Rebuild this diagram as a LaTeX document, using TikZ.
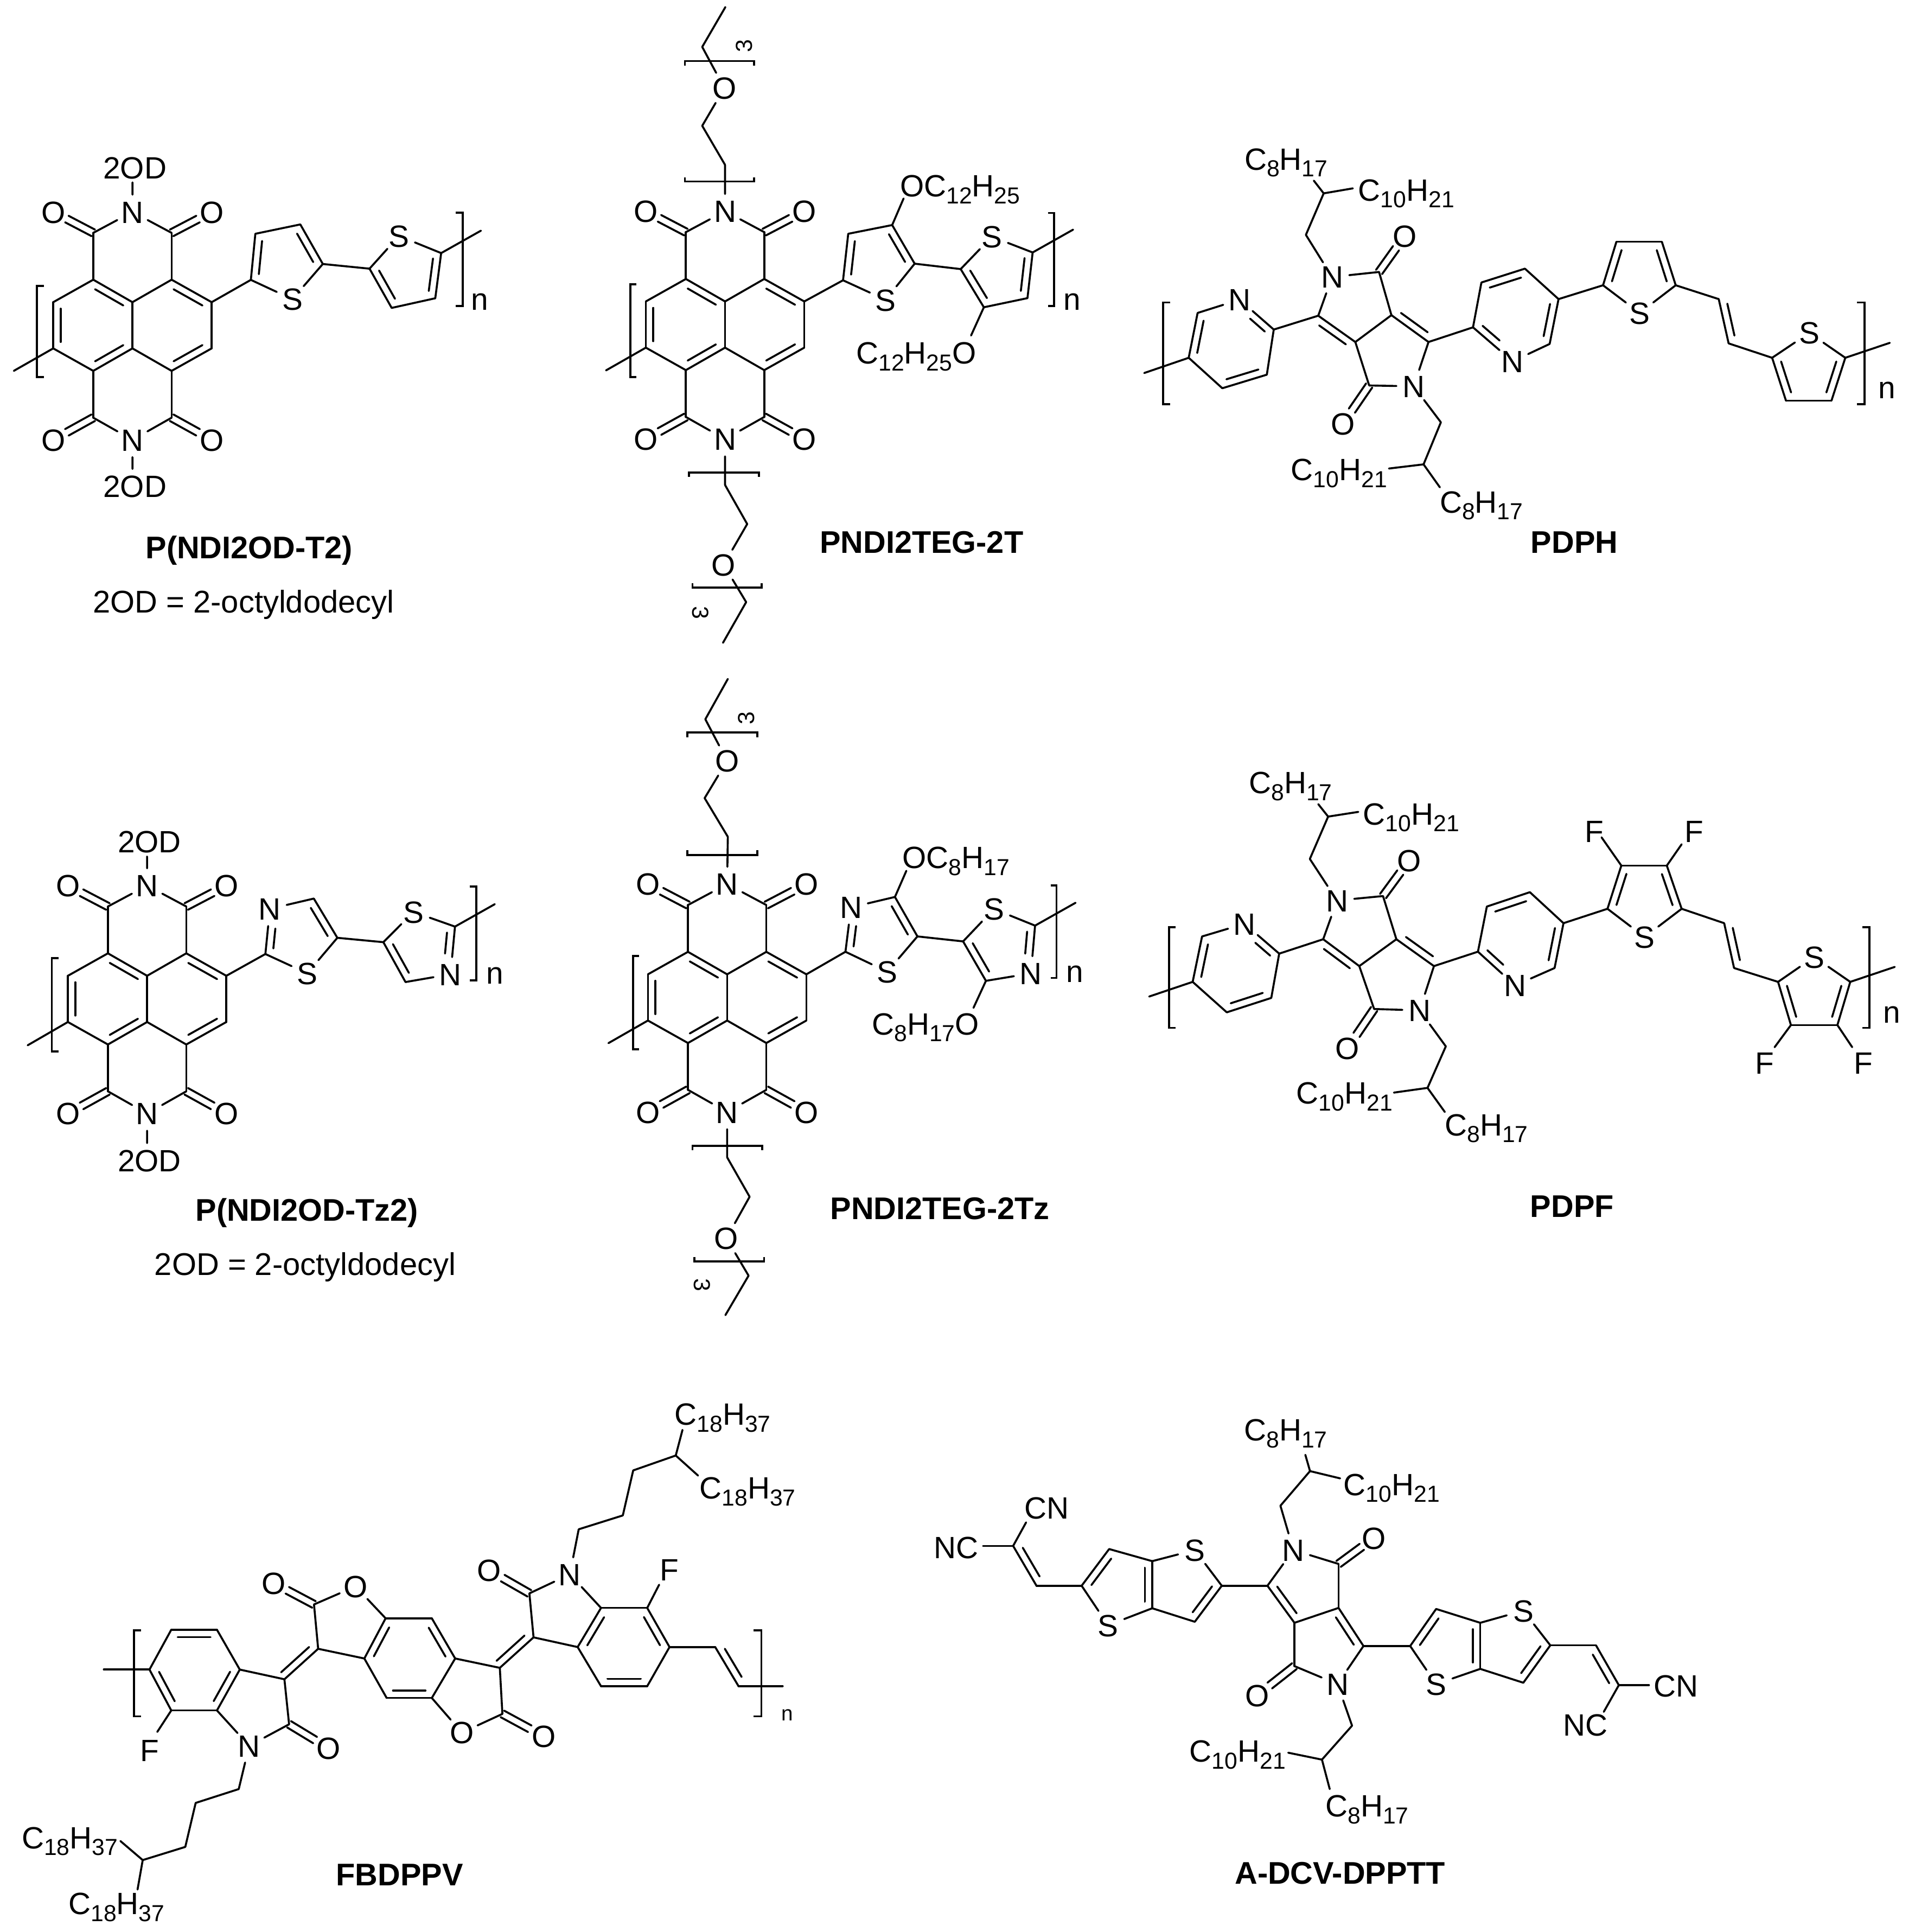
\documentclass[tikz,border=0pt]{standalone}
\usepackage{fontspec}
\setmainfont{Liberation Sans}
\usetikzlibrary{calc}
\newcommand\afont{\fontsize{25}{30}\selectfont}
\newcommand\cfont{\fontsize{25.5}{30}\selectfont}
\newcommand\sfont{\fontsize{18.8}{19}\selectfont}
\newcommand\tfont{\fontsize{25.4}{30}\selectfont\bfseries}
\newcommand\su[1]{\raisebox{-5.5pt}{\sfont #1}}
\tikzset{
  bond/.style={line width=1.6pt,line cap=round,line join=round},
  brk/.style={line width=1.6pt,line cap=butt,line join=miter},
  atom/.style={circle,inner sep=0pt,outer sep=0pt,minimum size=28pt,text height=18pt,text depth=0pt,font=\afont},
  lab/.style={inner sep=0pt,outer sep=0pt,text height=18pt,text depth=0pt,font=\afont},
  captn/.style={inner sep=0pt,outer sep=0pt,text height=18pt,text depth=0pt,font=\cfont},
  ttl/.style={inner sep=0pt,outer sep=0pt,text height=18pt,text depth=0pt,font=\tfont},
  idx/.style={inner sep=0pt,outer sep=0pt,font=\afont},
  rep/.style={inner sep=0pt,outer sep=0pt,font=\sfont}
}
\newcommand\pts[1]{\foreach \nm/\xx/\yy in {#1} {\coordinate (\nm) at (\xx,\yy);}}
\newcommand\ats[1]{\foreach \nm/\tx/\xx/\yy in {#1} {\node[atom] (\nm) at (\xx,\yy) {\tx};}}
\newcommand\bnd[1]{\foreach \pp/\qq in {#1} {\draw[bond] (\pp)--(\qq);}}
\newcommand\dblf[5]{\draw[bond] (#1)--(#2);\draw[bond] ($(#1)!#4!(#2)!6pt!#3:(#2)$)--($(#1)!#5!(#2)!6pt!#3:(#2)$);}
\newcommand\dbl[3]{\dblf{#1}{#2}{#3}{.14}{.86}}
\newcommand\cdo[2]{\draw[bond] ($(#1)!3pt!90:(#2)$)--($(#1)!.66!(#2)!3pt!90:(#2)$);\draw[bond] ($(#1)!3pt!-90:(#2)$)--($(#1)!.66!(#2)!3pt!-90:(#2)$);}
% naphthalene diimide core
\newcommand\ndi[3]{\begin{scope}[shift={(#2,#3)}]
\pts{#1a/-64.3/-18.75,#1b/-64.3/18.75,#1c/-31.8/-37,#1d/31.8/-37,#1e/0/-18.75,#1f/0/18.75,#1g/64.3/-18.75,#1h/64.3/18.75,#1i/-31.8/37,#1j/31.8/37,#1k/-31.8/-75,#1l/31.8/-75,#1m/-31.8/75,#1o/31.8/75}
\ats{#1Na/N/0/-92,#1Nb/N/0/93,#1Oa/O/-64.3/-92,#1Ob/O/64.3/-92,#1Oc/O/-64.3/93,#1Od/O/64.3/93}
\bnd{#1a/#1c,#1e/#1d,#1g/#1h,#1j/#1f,#1i/#1b,#1e/#1f,#1c/#1k,#1d/#1l,#1i/#1m,#1j/#1o,#1k/#1Na,#1l/#1Na,#1m/#1Nb,#1o/#1Nb}
\dbl{#1c}{#1e}{-90}\dbl{#1d}{#1g}{-90}\dbl{#1h}{#1j}{-90}\dbl{#1f}{#1i}{-90}\dbl{#1a}{#1b}{90}
\cdo{#1k}{#1Oa}\cdo{#1l}{#1Ob}\cdo{#1m}{#1Oc}\cdo{#1o}{#1Od}
\end{scope}}
% diketopyrrolopyrrole polymers
\newcommand\pdp[1]{
\bnd{#1p6/#1Np,#1p2/#1p3,#1p4/#1p5,#1p5/#1fl,#1p2/#1d1,#1d1/#1N1,#1N1/#1k1,#1k1/#1k2,#1k2/#1k3,#1d2/#1N2,#1N2/#1k4,#1k4/#1k3,#1d2/#1q2,#1q3/#1q2,#1Nq/#1q6,#1q5/#1q4,#1q5/#1r2,#1r3/#1r4,#1r5/#1Sr,#1r2/#1Sr,#1r5/#1v1,#1v2/#1w1,#1w1/#1Sw,#1Sw/#1w5,#1w4/#1w3,#1w5/#1fr,#1N1/#1e1,#1e1/#1e2,#1e2/#1e3,#1e2/#1e4,#1N2/#1g1,#1g1/#1g2,#1g2/#1g3,#1g2/#1g4}
\dbl{#1p5}{#1p6}{-90}\dblf{#1Np}{#1p2}{-90}{.45}{.88}\dbl{#1p3}{#1p4}{-90}\dbl{#1d1}{#1k3}{-90}\dbl{#1k2}{#1d2}{90}
\dblf{#1q2}{#1Nq}{90}{.12}{.55}\dbl{#1q6}{#1q5}{90}\dbl{#1q4}{#1q3}{90}\dbl{#1r2}{#1r3}{-90}\dbl{#1r4}{#1r5}{-90}
\dbl{#1v1}{#1v2}{90}\dbl{#1w5}{#1w4}{-90}\dbl{#1w3}{#1w1}{-90}
\cdo{#1k1}{#1O1}\cdo{#1k4}{#1O2}}
\begin{document}
\begin{tikzpicture}[x=1pt,y=-1pt]
\useasboundingbox (0,0) rectangle (1554,1568);
\ndi{A}{107.5}{264}
\ndi{B}{588.5}{263.4}
\ndi{D}{119.4}{810.7}
\ndi{E}{590.2}{809.5}
% ---------- P(NDI2OD-T2)
\begin{scope}[shift={(0,110.1)},x=.28084pt,y=-.2528pt]
\pts{At2/725/463,At3/738/315,At4/868/285,At5/933/412,Au1/1068/427,Au5/1275/377,Au4/1258/522,Au3/1132/553,Afr/1390/305,Afl/40/755,Acb/383/150,Acc/383/1070}
\ats{ASt/S/845/525,ASu/S/1153/322}
\bnd{Ag/At2,At3/At4,At5/ASt,At2/ASt,At5/Au1,Au1/ASu,ASu/Au5,Au4/Au3,Au5/Afr,Ab/Afl,ANa/Acb,ANb/Acc}
\dbl{At2}{At3}{-90}\dbl{At4}{At5}{-90}\dbl{Au5}{Au4}{-90}\dbl{Au3}{Au1}{-90}
\draw[brk] (127,482)--(107,482)--(107,775)--(127,775);
\draw[brk] (1317,247)--(1337,247)--(1337,547)--(1317,547);
\node[idx] (An) at (1387,533) {n};
\node[lab] (Ar1) at (390,103) {2OD};
\node[lab] (Ar2) at (390,1125) {2OD};
\node[ttl] (At) at (720,1322) {P(NDI2OD-T2)};
\node[captn] (Ac) at (704,1497) {2OD = 2-octyldodecyl};
\end{scope}
% ---------- PNDI2TEG-2T
\begin{scope}[shift={(462.4,0)},x=.28084pt,y=-.3370pt]
\pts{Bc1/449/397,Bc2/383/303,Bc3/383/113,Bc4/450/17,Bd1/449/1168,Bd2/513/1262,Bd3/510/1450,Bd4/443/1548,
Bt2/790/675,Bt3/805/563,Bt4/932/542,Bt5/997/635,Bu1/1130/648,Bu5/1338/608,Bu4/1323/718,Bu3/1197/740,Bfr/1455/553,Bfl/105/892,Bx1/965/478,Bx2/1160/808}
\ats{BOc/O/447/212,BOd/O/445/1360,BSt/S/913/722,BSu/S/1220/570}
\bnd{BNa/Bc1,Bc1/Bc2,Bc2/BOc,BOc/Bc3,Bc3/Bc4,BNb/Bd1,Bd1/Bd2,Bd2/BOd,BOd/Bd3,Bd3/Bd4,Bg/Bt2,Bt3/Bt4,Bt5/BSt,Bt2/BSt,Bt5/Bu1,Bu1/BSu,BSu/Bu5,Bu4/Bu3,Bu5/Bfr,Bb/Bfl,Bt4/Bx1,Bu3/Bx2}
\dbl{Bt2}{Bt3}{-90}\dbl{Bt4}{Bt5}{-90}\dbl{Bu5}{Bu4}{-90}\dbl{Bu3}{Bu1}{-90}
\draw[brk] (333,158)--(333,147)--(533,147)--(533,158);
\draw[brk] (333,427)--(333,437)--(533,437)--(533,427);
\draw[brk] (345,1148)--(345,1138)--(547,1138)--(547,1148);
\draw[brk] (355,1405)--(355,1415)--(555,1415)--(555,1405);
\draw[brk] (193,685)--(175,685)--(175,908)--(193,908);
\draw[brk] (1382,513)--(1400,513)--(1400,737)--(1382,737);
\node[rep,rotate=90] (Br1) at (505,110) {3};
\node[rep,rotate=-90] (Br2) at (378,1475) {3};
\node[idx] (Bn) at (1452,727) {n};
\node[lab,anchor=west] (Bl1) at (955,447) {OC\su{12}H\su{25}};
\node[lab,anchor=east] (Bl2) at (1175,850) {C\su{12}H\su{25}O};
\node[ttl] (Bt) at (1017,1305) {PNDI2TEG-2T};
\end{scope}
% ---------- PDPH
\begin{scope}[shift={(924.7,105.7)},x=.4013pt,y=-.22467pt]
\pts{Cp5/100/822,Cp6/118/660,Cp2/272/720,Cp3/258/883,Cp4/168/932,Cfl/10/877,Cd1/362/670,Ck1/485/512,Ck2/510/668,Ck3/437/765,Cd2/585/765,Ck4/465/922,
Cq2/675/712,Cq3/692/550,Cq4/780/500,Cq5/848/610,Cq6/830/772,Cr2/938/560,Cr3/965/403,Cr4/1057/403,Cr5/1085/560,Cv1/1172/610,Cv2/1192/770,Cw1/1280/822,Cw5/1428/822,Cw4/1400/977,Cw3/1308/977,Cfr/1518/768,
Ce1/337/378,Ce2/373/228,Ce3/353/182,Ce4/432/210,Cg1/610/1055,Cg2/575/1207,Cg3/505/1222,Cg4/608/1290}
\ats{CNp/N/203/612,CN1/N/390/530,CN2/N/555/925,CNq/N/755/835,CO1/O/537/382,CO2/O/412/1060,CSr/S/1012/660,CSw/S/1355/732}
\pdp{C}
\draw[brk] (63,622)--(48,622)--(48,990)--(63,990);
\draw[brk] (1452,622)--(1467,622)--(1467,990)--(1452,990);
\node[idx] (Cn) at (1512,940) {n};
\node[lab,anchor=west] (Cl1) at (213,103) {C\su{8}H\su{17}};
\node[lab,anchor=west] (Cl2) at (443,215) {C\su{10}H\su{21}};
\node[lab,anchor=west] (Cl3) at (307,1225) {C\su{10}H\su{21}};
\node[lab,anchor=west] (Cl4) at (608,1342) {C\su{8}H\su{17}};
\node[ttl] (Ct) at (880,1487) {PDPH};
\end{scope}
% ---------- P(NDI2OD-Tz2)
\begin{scope}[shift={(0,660.5)},x=.28084pt,y=-.2528pt]
\pts{Dt2/767/450,Dt4/907/272,Dt5/975/398,Du1/1108/412,Du5/1315/362,Du3/1172/540,Dfr/1430/290,Dfl/80/743,Dcb/425/137,Dcc/425/1057}
\ats{DSt/S/888/512,DSu/S/1195/315,DNt/N/780/305,DNu/N/1302/515}
\bnd{Dg/Dt2,DNt/Dt4,Dt5/DSt,Dt2/DSt,Dt5/Du1,Du1/DSu,DSu/Du5,DNu/Du3,Du5/Dfr,Db/Dfl,DNa/Dcb,DNb/Dcc}
\dblf{Dt2}{DNt}{-90}{.14}{.58}\dbl{Dt4}{Dt5}{-90}\dblf{Du5}{DNu}{-90}{.14}{.58}\dbl{Du3}{Du1}{-90}
\draw[brk] (170,463)--(150,463)--(150,763)--(170,763);
\draw[brk] (1357,233)--(1377,233)--(1377,535)--(1357,535);
\node[idx] (Dn) at (1430,520) {n};
\node[lab] (Dr1) at (432,88) {2OD};
\node[lab] (Dr2) at (432,1113) {2OD};
\node[ttl] (Dt) at (887,1272) {P(NDI2OD-Tz2)};
\node[captn] (Dc) at (882,1445) {2OD = 2-octyldodecyl};
\end{scope}
% ---------- PNDI2TEG-2Tz
\begin{scope}[shift={(462.4,541.6)},x=.28084pt,y=-.3370pt]
\pts{Ec1/457/408,Ec2/390/315,Ec3/392/125,Ec4/457/28,Ed1/455/1180,Ed2/520/1275,Ed3/517/1465,Ed4/450/1560,
Et2/797/685,Et4/940/553,Et5/1005/648,Eu1/1137/660,Eu5/1345/622,Eu3/1203/755,Efr/1462/567,Efl/112/905,Ex1/973/490,Ex2/1167/820}
\ats{EOc/O/455/225,EOd/O/453/1375,ESt/S/918/733,ESu/S/1226/582,ENt/N/813/578,ENu/N/1333/737}
\bnd{ENa/Ec1,Ec1/Ec2,Ec2/EOc,EOc/Ec3,Ec3/Ec4,ENb/Ed1,Ed1/Ed2,Ed2/EOd,EOd/Ed3,Ed3/Ed4,Eg/Et2,ENt/Et4,Et5/ESt,Et2/ESt,Et5/Eu1,Eu1/ESu,ESu/Eu5,ENu/Eu3,Eu5/Efr,Eb/Efl,Et4/Ex1,Eu3/Ex2}
\dblf{Et2}{ENt}{-90}{.14}{.6}\dbl{Et4}{Et5}{-90}\dblf{Eu5}{ENu}{-90}{.14}{.6}\dbl{Eu3}{Eu1}{-90}
\draw[brk] (340,168)--(340,157)--(542,157)--(542,168);
\draw[brk] (340,440)--(340,452)--(542,452)--(542,440);
\draw[brk] (355,1163)--(355,1152)--(556,1152)--(556,1163);
\draw[brk] (360,1420)--(360,1431)--(562,1431)--(562,1420);
\draw[brk] (200,695)--(183,695)--(183,920)--(200,920);
\draw[brk] (1390,525)--(1407,525)--(1407,748)--(1390,748);
\node[rep,rotate=90] (Er1) at (510,122) {3};
\node[rep,rotate=-90] (Er2) at (382,1487) {3};
\node[idx] (En) at (1460,738) {n};
\node[lab,anchor=west] (El1) at (962,458) {OC\su{8}H\su{17}};
\node[lab,anchor=east] (El2) at (1183,858) {C\su{8}H\su{17}O};
\node[ttl] (Et) at (1070,1303) {PNDI2TEG-2Tz};
\end{scope}
% ---------- PDPF
\begin{scope}[shift={(924.7,607.7)},x=.4013pt,y=-.22467pt]
\pts{Fp5/108/842,Fp6/127/678,Fp2/283/740,Fp3/267/900,Fp4/177/952,Ffl/20/895,Fd1/372/688,Fk1/493/532,Fk2/520/688,Fk3/445/785,Fd2/596/785,Fk4/475/940,
Fq2/685/733,Fq3/703/570,Fq4/790/518,Fq5/858/630,Fq6/840/792,Fr2/947/578,Fr3/975/422,Fr4/1067/422,Fr5/1097/578,Fv1/1183/630,Fv2/1203/792,Fw1/1292/842,Fw5/1438/842,Fw4/1412/998,Fw3/1318/998,Ffr/1528/788,
Fe1/345/398,Fe2/382/245,Fe3/362/200,Fe4/443/228,Fg1/620/1075,Fg2/583/1225,Fg3/515/1242,Fg4/618/1312,Ff1/935/320,Ff2/1097/345,Ff3/1285/1078,Ff4/1442/1078}
\ats{FNp/N/213/632,FN1/N/400/548,FN2/N/567/945,FNq/N/760/855,FO1/O/546/403,FO2/O/421/1082,FSr/S/1022/680,FSw/S/1365/752}
\pdp{F}
\bnd{Fr3/Ff1,Fr4/Ff2,Fw3/Ff3,Fw4/Ff4}
\draw[brk] (73,645)--(60,645)--(60,1008)--(73,1008);
\draw[brk] (1463,645)--(1477,645)--(1477,1008)--(1463,1008);
\node[idx] (Fn) at (1522,960) {n};
\node[lab] (FF1) at (920,297) {F};
\node[lab] (FF2) at (1122,297) {F};
\node[lab] (FF3) at (1265,1135) {F};
\node[lab] (FF4) at (1465,1135) {F};
\node[lab,anchor=west] (Fl1) at (222,122) {C\su{8}H\su{17}};
\node[lab,anchor=west] (Fl2) at (453,235) {C\su{10}H\su{21}};
\node[lab,anchor=west] (Fl3) at (318,1243) {C\su{10}H\su{21}};
\node[lab,anchor=west] (Fl4) at (618,1358) {C\su{8}H\su{17}};
\end{scope}
\node[ttl] (Ft) at (1276,979) {PDPF};
% ---------- FBDPPV
\begin{scope}[shift={(0,1127.3)},x=.42126pt,y=-.28112pt]
\pts{Ga1/288/810,Ga2/330/695,Ga3/418/695,Ga4/462/810,Ga5/418/928,Ga6/330/928,Gfl/200/810,Gb2/557/968,Gb3/548/838,Gc3/613/750,Gc2/605/622,
Ge1/743/662,Ge2/832/662,Ge3/877/778,Ge4/832/892,Ge5/745/892,Ge6/702/778,Gf3/963/805,Gf2/968/938,Gg3/1028/717,Gg2/1020/590,
Gh1/1158/632,Gh2/1247/632,Gh3/1290/745,Gh4/1247/858,Gh5/1158/858,Gh6/1113/745,Gv1/1378/745,Gv2/1423/858,Gfr/1508/858,
Gx1/303/990,Gx2/1270/565,Gm1/460/1155,Gm2/377/1195,Gm3/357/1322,Gm4/275/1360,Gm5/232/1305,Gm6/265/1445,Gn1/1115/405,Gn2/1200/365,Gn3/1220/235,Gn4/1302/192,Gn5/1315/118,Gn6/1345/250}
\ats{GNa/N/480/1030,GNb/N/1098/535,GOa/O/633/1037,GOb/O/527/560,GOc/O/685/570,GOd/O/1048/1003,GOe/O/890/992,GOf/O/942/523}
\bnd{Ga1/Ga2,Ga3/Ga4,Ga5/Ga6,Ga1/Gfl,Ga4/Gb3,Ga5/GNa,GNa/Gb2,Gb2/Gb3,Gc3/Gc2,Gc2/GOc,GOc/Ge1,Ge1/Ge2,Ge3/Ge4,Ge5/Ge6,Gc3/Ge6,Ge3/Gf3,Gf3/Gf2,Gf2/GOe,GOe/Ge4,Gg3/Gg2,Gg2/GNb,GNb/Gh1,Gg3/Gh6,Gh1/Gh2,Gh3/Gh4,Gh5/Gh6,Gh3/Gv1,Gv2/Gfr,Ga6/Gx1,Gh2/Gx2,GNa/Gm1,Gm1/Gm2,Gm2/Gm3,Gm3/Gm4,Gm4/Gm5,Gm4/Gm6,GNb/Gn1,Gn1/Gn2,Gn2/Gn3,Gn3/Gn4,Gn4/Gn5,Gn4/Gn6}
\dbl{Ga2}{Ga3}{-90}\dbl{Ga4}{Ga5}{-90}\dbl{Ga6}{Ga1}{-90}
\dblf{Gb3}{Gc3}{90}{.05}{.88}\dbl{Ge2}{Ge3}{-90}\dbl{Ge4}{Ge5}{-90}\dbl{Ge6}{Ge1}{-90}
\dblf{Gf3}{Gg3}{90}{.05}{.88}\dbl{Gh1}{Gh6}{90}\dbl{Gh2}{Gh3}{-90}\dbl{Gh4}{Gh5}{-90}\dbl{Gv1}{Gv2}{90}
\cdo{Gb2}{GOa}\cdo{Gc2}{GOb}\cdo{Gf2}{GOd}\cdo{Gg2}{GOf}
\draw[brk] (272,697)--(258,697)--(258,945)--(272,945);
\draw[brk] (1452,697)--(1467,697)--(1467,945)--(1452,945);
\node[inner sep=0pt,font=\fontsize{17}{17}\selectfont] (Gn) at (1517,942) {n};
\node[lab] (GF1) at (288,1043) {F};
\node[lab] (GF2) at (1290,522) {F};
\node[lab,anchor=west] (Gl1) at (42,1295) {C\su{18}H\su{37}};
\node[lab,anchor=west] (Gl2) at (132,1485) {C\su{18}H\su{37}};
\node[lab,anchor=west] (Gl3) at (1300,72) {C\su{18}H\su{37}};
\node[lab,anchor=west] (Gl4) at (1348,285) {C\su{18}H\su{37}};
\node[ttl] (Gt) at (770,1402) {FBDPPV};
\end{scope}
% ---------- A-DCV-DPPTT
\begin{scope}[shift={(748.6,1127.3)},x=.42126pt,y=-.28112pt]
\pts{Hi1/175/453,Hi2/220/568,Hx1/200/385,Hx2/117/453,Hj2/307/568,Hj3/360/462,Hj4/443/497,Hj5/443/633,Hl5/577/568,Hl4/525/672,
Hd1/665/568,Hk1/802/505,Hk2/802/632,Hk3/717/675,Hd2/850/742,Hk4/717/800,Hn2/940/742,Hn3/990/635,Hn4/1075/675,Hn5/1075/808,Ho5/1210/740,Ho4/1158/848,Hy1/1298/740,Hy2/1342/855,Hz1/1400/855,Hz2/1313/932,
Hc1/690/337,Hc2/747/237,Hc3/738/190,Hc4/805/258,Hg1/828/972,Hg2/770/1070,Hg3/705/1050,Hg4/785/1155}
\ats{HN1/N/715/465,HN2/N/800/852,HOa/O/870/430,HOb/O/645/885,HSa/S/358/682,HSb/S/525/465,HSc/S/990/852,HSd/S/1158/640}
\bnd{Hi1/Hx1,Hi1/Hx2,Hi2/Hj2,Hj3/Hj4,Hj5/HSa,HSa/Hj2,Hj4/HSb,HSb/Hl5,Hl4/Hj5,Hl5/Hd1,Hd1/HN1,HN1/Hk1,Hk1/Hk2,Hk2/Hk3,Hd2/HN2,HN2/Hk4,Hk4/Hk3,Hd2/Hn2,Hn3/Hn4,Hn5/HSc,HSc/Hn2,Hn4/HSd,HSd/Ho5,Ho4/Hn5,Ho5/Hy1,Hy2/Hz1,Hy2/Hz2,HN1/Hc1,Hc1/Hc2,Hc2/Hc3,Hc2/Hc4,HN2/Hg1,Hg1/Hg2,Hg2/Hg3,Hg2/Hg4}
\dbl{Hi1}{Hi2}{90}\dbl{Hj2}{Hj3}{-90}\dbl{Hj4}{Hj5}{-90}\dbl{Hl5}{Hl4}{-90}
\dbl{Hd1}{Hk3}{90}\dbl{Hk2}{Hd2}{-90}\dbl{Hn2}{Hn3}{-90}\dbl{Hn4}{Hn5}{-90}\dbl{Ho5}{Ho4}{-90}\dbl{Hy1}{Hy2}{-90}
\cdo{Hk1}{HOa}\cdo{Hk4}{HOb}
\node[lab] (Hr1) at (240,343) {CN};
\node[lab] (Hr2) at (65,457) {NC};
\node[lab] (Hr3) at (1452,857) {CN};
\node[lab] (Hr4) at (1278,970) {NC};
\node[lab,anchor=west] (Hl1) at (620,118) {C\su{8}H\su{17}};
\node[lab,anchor=west] (Hl2) at (812,275) {C\su{10}H\su{21}};
\node[lab,anchor=west] (Hl3) at (515,1045) {C\su{10}H\su{21}};
\node[lab,anchor=west] (Hl6) at (777,1203) {C\su{8}H\su{17}};
\node[ttl] (Ht) at (805,1397) {A-DCV-DPPTT};
\end{scope}
\end{tikzpicture}
\end{document}
